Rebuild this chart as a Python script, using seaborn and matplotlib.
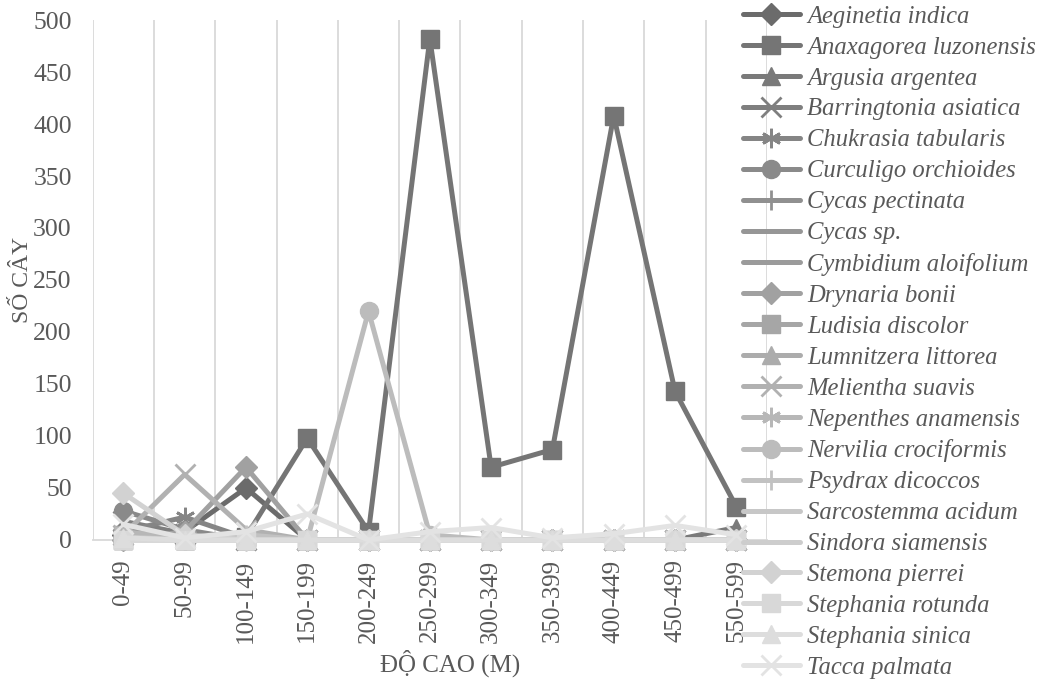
import matplotlib
matplotlib.use("Agg")
import matplotlib.pyplot as plt
import numpy as np
import pandas as pd
import seaborn as sns

sns.set_theme(style="white")
plt.rcParams["font.family"] = ["Liberation Serif", "DejaVu Serif"]

CATEGORIES = ["0-49", "50-99", "100-149", "150-199", "200-249", "250-299",
              "300-349", "350-399", "400-449", "450-499", "550-599"]

SPECIES = [
    "Aeginetia indica", "Anaxagorea luzonensis", "Argusia argentea",
    "Barringtonia asiatica", "Chukrasia tabularis", "Curculigo orchioides",
    "Cycas pectinata", "Cycas sp.", "Cymbidium aloifolium", "Drynaria bonii",
    "Ludisia discolor", "Lumnitzera littorea", "Melientha suavis",
    "Nepenthes anamensis", "Nervilia crociformis", "Psydrax dicoccos",
    "Sarcostemma acidum", "Sindora siamensis", "Stemona pierrei",
    "Stephania rotunda", "Stephania sinica", "Tacca palmata",
]

aeginetia = [5, 8, 50, 0, 0, 0, 0, 0, 0, 0, 0]
anaxagorea = [0, 0, 3, 98, 8, 482, 70, 87, 408, 143, 32]
argusia = [12, 5, 0, 0, 0, 0, 0, 0, 0, 0, 12]
barringtonia = [18, 6, 0, 0, 0, 0, 0, 0, 0, 0, 0]
chukrasia = [8, 22, 2, 0, 0, 0, 0, 0, 0, 0, 0]
curculigo = [28, 10, 0, 0, 0, 0, 0, 0, 0, 0, 0]
cycas_pectinata = [10, 3, 0, 0, 0, 0, 0, 0, 0, 0, 0]
cycas_sp = [6, 0, 0, 0, 0, 0, 0, 0, 0, 0, 0]
cymbidium = [4, 2, 0, 0, 0, 0, 0, 0, 0, 0, 0]
drynaria = [0, 8, 70, 0, 0, 0, 0, 0, 0, 0, 0]
ludisia = [5, 0, 0, 0, 0, 0, 0, 0, 0, 0, 0]
lumnitzera = [0, 0, 0, 0, 0, 0, 0, 0, 0, 0, 0]
melientha = [5, 63, 10, 0, 0, 0, 0, 0, 0, 0, 0]
nepenthes = [8, 2, 0, 0, 0, 0, 0, 0, 0, 0, 0]
nervilia = [0, 0, 0, 0, 220, 5, 0, 0, 0, 0, 0]
psydrax = [0, 0, 5, 0, 0, 0, 0, 0, 0, 0, 0]
sarcostemma = [3, 0, 0, 0, 0, 0, 0, 0, 0, 0, 0]
sindora = [0, 0, 0, 0, 0, 0, 0, 0, 0, 0, 0]
stemona = [45, 5, 0, 0, 0, 0, 0, 0, 0, 0, 0]
stephania_rotunda = [0, 0, 0, 0, 0, 0, 0, 0, 0, 0, 0]
stephania_sinica = [2, 0, 0, 0, 0, 0, 0, 0, 0, 0, 0]
tacca = [15, 2, 8, 25, 0, 8, 12, 2, 6, 14, 5]

VALUES = [aeginetia, anaxagorea, argusia, barringtonia, chukrasia, curculigo,
          cycas_pectinata, cycas_sp, cymbidium, drynaria, ludisia, lumnitzera,
          melientha, nepenthes, nervilia, psydrax, sarcostemma, sindora,
          stemona, stephania_rotunda, stephania_sinica, tacca]

# Excel-style monochrome palette, dark -> light
COLORS = ["#6b6b6b", "#757575", "#7a7a7a", "#7f7f7f", "#858585", "#8a8a8a",
          "#909090", "#969696", "#9b9b9b", "#a1a1a1", "#a6a6a6", "#acacac",
          "#b1b1b1", "#b7b7b7", "#bcbcbc", "#c2c2c2", "#c7c7c7", "#cdcdcd",
          "#d2d2d2", "#d8d8d8", "#dddddd", "#e3e3e3"]
MARKER_CYCLE = ["D", "s", "^", "x", (6, 2, 0), "o", "+", "_", None]

TEXT = "#595959"
GRID = "#d9d9d9"

df = pd.DataFrame({
    "species": np.repeat(SPECIES, len(CATEGORIES)),
    "pos": np.tile(np.arange(len(CATEGORIES)), len(SPECIES)),
    "value": np.concatenate(VALUES),
})

fig = plt.figure(figsize=(10.38, 6.83), dpi=100)
ax = fig.add_axes([0.0893, 0.2094, 0.6496, 0.7613])

for i, name in enumerate(SPECIES):
    sub = df[df.species == name]
    m = MARKER_CYCLE[i % len(MARKER_CYCLE)]
    kw = dict(color=COLORS[i], lw=3.6, sort=False, label=name, ax=ax,
              markeredgecolor=COLORS[i], clip_on=False, zorder=3 + i)
    if m is not None:
        kw["marker"] = m
        if m == "D":
            kw.update(markersize=11, markeredgewidth=1)
        elif m in ("s", "o", "^"):
            kw.update(markersize=13, markeredgewidth=1)
        else:
            kw.update(markersize=14, markeredgewidth=2)
    sns.lineplot(data=sub, x="pos", y="value", **kw)

ax.set_xlim(-0.5, len(CATEGORIES) - 0.5)
ax.set_ylim(0, 500)
ax.set_yticks(np.arange(0, 501, 50))
ax.set_xticks(np.arange(len(CATEGORIES)))
ax.set_xticklabels(CATEGORIES, rotation=90)
ax.set_xticks(np.arange(len(CATEGORIES) + 1) - 0.5, minor=True)
ax.grid(False)
ax.grid(True, which="minor", axis="x", color=GRID, lw=1.3)
ax.tick_params(axis="both", which="both", length=0, colors=TEXT)
ax.tick_params(axis="y", labelsize=18.5, pad=15)
ax.tick_params(axis="x", labelsize=18, pad=14)

for side in ["left", "top", "right"]:
    ax.spines[side].set_visible(False)
ax.spines["bottom"].set_color(GRID)
ax.spines["bottom"].set_linewidth(1.3)

ax.set_xlabel("ĐỘ CAO (M)", fontsize=18, color=TEXT)
ax.xaxis.set_label_coords(0.53, -0.21)
ax.set_ylabel("SỐ CÂY", fontsize=17, color=TEXT)
ax.yaxis.set_label_coords(-0.088, 0.5)

handles, labels = ax.get_legend_handles_labels()
if ax.get_legend():
    ax.get_legend().remove()
fig.legend(handles, labels, loc="upper left", bbox_to_anchor=(0.716, 0.992),
           frameon=False, borderpad=0, borderaxespad=0.0,
           prop={"family": "Liberation Serif", "style": "italic", "size": 17.7},
           labelcolor=TEXT, labelspacing=0.355, handlelength=2.3,
           handletextpad=0.3)

fig.savefig("out.png", dpi=100)
